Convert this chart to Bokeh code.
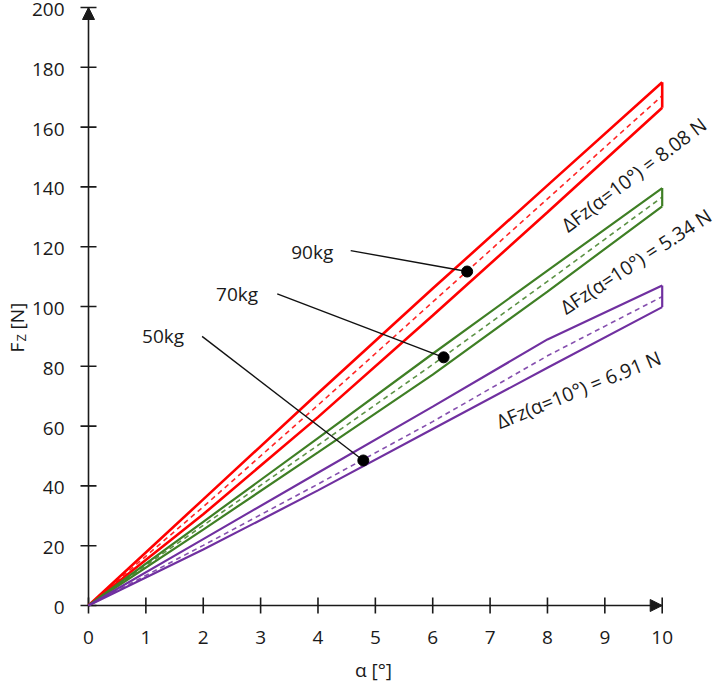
from bokeh.plotting import figure
from bokeh.models import Range1d, Label, Arrow, NormalHead
from bokeh.core.properties import value
from bokeh.embed import file_html
from bokeh.resources import INLINE

# ---- data ----
alpha = [0, 2, 4, 6, 8, 10]

red_upper = [0, 35.5, 71.0, 106.0, 140.5, 175.0]
red_mid = [0, 33.0, 67.0, 101.5, 136.0, 170.5]
red_lower = [0, 30.5, 63.0, 97.0, 131.5, 166.5]

green_upper = [0, 28.0, 56.0, 84.2, 112.0, 139.6]
green_mid = [0, 26.8, 53.6, 80.6, 108.4, 136.6]
green_lower = [0, 25.4, 51.2, 77.2, 105.0, 133.5]

purple_upper = [0, 22.2, 44.4, 66.5, 89.0, 107.0]
purple_mid = [0, 20.1, 40.6, 61.5, 83.5, 103.3]
purple_lower = [0, 18.7, 38.5, 59.0, 79.5, 99.8]

x_ticks = [0, 1, 2, 3, 4, 5, 6, 7, 8, 9, 10]
y_ticks = [0, 20, 40, 60, 80, 100, 120, 140, 160, 180, 200]
x_tick_labels = [str(t) for t in x_ticks]
y_tick_labels = [str(t) for t in y_ticks]

mass_labels = ["90kg", "70kg", "50kg"]
marker_alpha = [6.6, 6.19, 4.79]
marker_fz = [111.7, 83.0, 48.5]

delta_labels = ["ΔFz(α=10°) = 8.08 N", "ΔFz(α=10°) = 5.34 N", "ΔFz(α=10°) = 6.91 N"]

# ---- styling / placement ----
RED = "#ff0000"
GREEN = "#3f7f25"
PURPLE = "#7030a0"
TXT = "#1a1a1a"
AX = "#1a1a1a"
FONT = "Open Sans"

W, H = 720, 682
X0PX, X10PX = 88.0, 661.7      # pixel of alpha = 0 and alpha = 10
Y0PX, Y200PX = 605.0, 7.0      # pixel of Fz = 0 and Fz = 200
SX = (X10PX - X0PX) / 10.0     # px per degree
SY = (Y0PX - Y200PX) / 200.0   # px per N

label_pos = [(3.90, 118.2), (2.59, 104.2), (1.30, 90.0)]
leader_start = [(4.57, 118.7), (3.29, 104.2), (1.98, 90.0)]
delta_pos = [(8.285, 126.5, 37.0), (8.257, 99.2, 33.0), (7.124, 61.3, 22.0)]

p = figure(width=W, height=H, output_backend="svg", toolbar_location=None,
           x_range=Range1d(-X0PX / SX, (W - X0PX) / SX),
           y_range=Range1d(-(H - Y0PX) / SY, Y0PX / SY),
           x_axis_location=None, y_axis_location=None,
           min_border=0, min_border_left=0, min_border_right=0,
           min_border_top=0, min_border_bottom=0)
p.outline_line_color = None
p.grid.visible = False
p.background_fill_color = "white"
p.border_fill_color = "white"

# ---- hand-drawn axes ----
tick_len_x = 8 / SX
tick_len_y = 8 / SY
p.segment(x0=[x_ticks[0]], y0=[y_ticks[0]], x1=[x_ticks[-1]], y1=[y_ticks[0]],
          line_color=AX, line_width=1.6)
p.segment(x0=[x_ticks[0]], y0=[y_ticks[0]], x1=[x_ticks[0]], y1=[y_ticks[-1]],
          line_color=AX, line_width=1.6)
p.segment(x0=x_ticks, y0=[-tick_len_y] * len(x_ticks), x1=x_ticks, y1=[tick_len_y] * len(x_ticks),
          line_color=AX, line_width=1.6)
p.segment(x0=[-tick_len_x] * len(y_ticks), y0=y_ticks, x1=[tick_len_x] * len(y_ticks), y1=y_ticks,
          line_color=AX, line_width=1.6)

p.text(x=x_ticks, y=[-32 / SY] * len(x_ticks), text=x_tick_labels,
       text_align="center", text_baseline="middle",
       text_font=value(FONT), text_font_size="19px", text_color=TXT)
p.text(x=[-24 / SX] * len(y_ticks), y=[t - 2.0 / SY for t in y_ticks], text=y_tick_labels,
       text_align="right", text_baseline="middle",
       text_font=value(FONT), text_font_size="19px", text_color=TXT)

p.add_layout(Arrow(x_start=x_ticks[0], y_start=y_ticks[-1] - 5, x_end=x_ticks[0], y_end=y_ticks[-1],
                   line_alpha=0,
                   end=NormalHead(size=12, fill_color=AX, line_color=AX, line_width=1)))
p.add_layout(Arrow(x_start=x_ticks[-1] - 0.2, y_start=y_ticks[0], x_end=x_ticks[-1], y_end=y_ticks[0],
                   line_alpha=0,
                   end=NormalHead(size=12, fill_color=AX, line_color=AX, line_width=1)))

# ---- data lines ----
series = [
    (red_upper, red_mid, red_lower, RED, 2.6),
    (green_upper, green_mid, green_lower, GREEN, 2.2),
    (purple_upper, purple_mid, purple_lower, PURPLE, 2.2),
]
for up, mid, lo, col, lw in series:
    p.line(alpha, up, line_color=col, line_width=lw)
    p.line(alpha, lo, line_color=col, line_width=lw)
    p.line(alpha, mid, line_color=col, line_width=1.6, line_dash="5 4", line_alpha=0.85)
    p.segment(x0=[alpha[-1]], y0=[lo[-1]], x1=[alpha[-1]], y1=[up[-1]],
              line_color=col, line_width=lw)

# ---- leader lines, markers, mass labels ----
for (sx, sy), mx, my in zip(leader_start, marker_alpha, marker_fz):
    p.line([sx, mx], [sy, my], line_color="#111111", line_width=1.4)
p.scatter(marker_alpha, marker_fz, size=11, fill_color="#000000", line_color="#000000")

for txt, (lx, ly) in zip(mass_labels, label_pos):
    p.add_layout(Label(x=lx, y=ly, text=txt, text_align="center", text_baseline="middle",
                       text_font=FONT, text_font_size="19px", text_color=TXT))

for txt, (dx, dy, ang) in zip(delta_labels, delta_pos):
    p.add_layout(Label(x=dx, y=dy, text=txt, angle=ang, angle_units="deg",
                       text_align="left", text_baseline="alphabetic",
                       text_font=FONT, text_font_size="19.5px", text_color=TXT))

# ---- axis titles ----
p.add_layout(Label(x=(373 - X0PX) / SX, y=-(669 - Y0PX) / SY, text="α [°]",
                   text_align="center", text_baseline="middle",
                   text_font=FONT, text_font_size="19px", text_color=TXT))
p.add_layout(Label(x=-(X0PX - 16) / SX, y=(Y0PX - 352) / SY, text="F", angle=90, angle_units="deg",
                   text_align="left", text_baseline="alphabetic",
                   text_font=FONT, text_font_size="19px", text_color=TXT))
p.add_layout(Label(x=-(X0PX - 20) / SX, y=(Y0PX - 341) / SY, text="Z", angle=90, angle_units="deg",
                   text_align="left", text_baseline="alphabetic",
                   text_font=FONT, text_font_size="13px", text_color=TXT))
p.add_layout(Label(x=-(X0PX - 16) / SX, y=(Y0PX - 329) / SY, text="[N]", angle=90, angle_units="deg",
                   text_align="left", text_baseline="alphabetic",
                   text_font=FONT, text_font_size="19px", text_color=TXT))

open("out.html", "w").write(file_html(p, INLINE))
